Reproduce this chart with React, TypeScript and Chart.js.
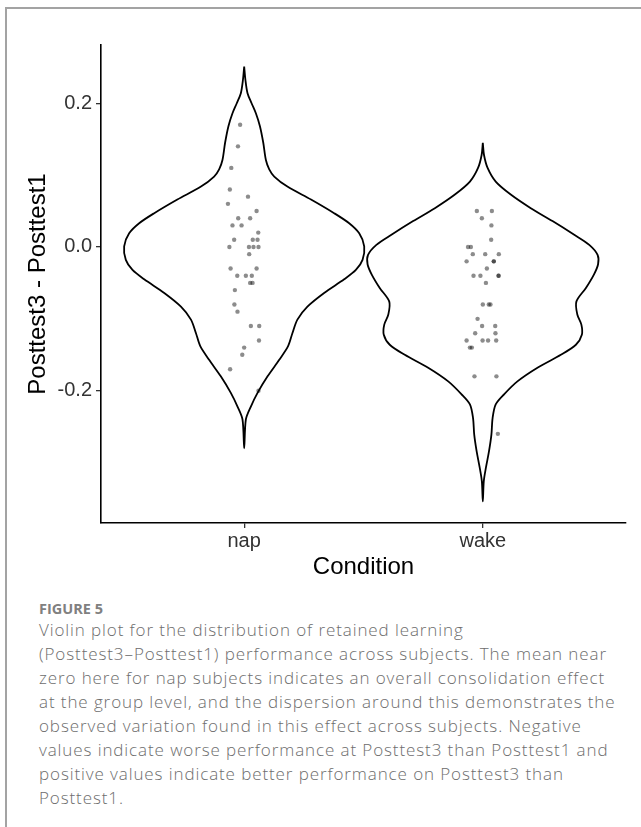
import React, { useEffect, useRef } from "react";
import { Chart, registerables } from "chart.js";

Chart.register(...registerables);

// ---- data ----
const categories = ["nap", "wake"];
const yTickValues = [-0.2, 0.0, 0.2];
const yAxisTitle = "Posttest3 - Posttest1";
const xAxisTitle = "Condition";

// violin outline: y values and half-widths (category units)
const napDensityY = [0.251, 0.233, 0.214, 0.2, 0.186, 0.168, 0.145, 0.121, 0.108, 0.098, 0.084, 0.066, 0.047, 0.033, 0.019, 0.001, -0.018, -0.032, -0.045, -0.064, -0.083, -0.101, -0.12, -0.138, -0.157, -0.18, -0.203, -0.222, -0.24, -0.28];
const napHalfWidth = [0, 0.005, 0.014, 0.031, 0.049, 0.066, 0.08, 0.091, 0.105, 0.126, 0.181, 0.28, 0.377, 0.44, 0.482, 0.503, 0.496, 0.468, 0.419, 0.335, 0.265, 0.223, 0.202, 0.184, 0.147, 0.098, 0.056, 0.028, 0.007, 0];

const wakeDensityY = [0.145, 0.128, 0.11, 0.091, 0.073, 0.054, 0.036, 0.017, 0.003, -0.011, -0.024, -0.038, -0.057, -0.076, -0.094, -0.108, -0.122, -0.136, -0.15, -0.168, -0.187, -0.205, -0.219, -0.238, -0.261, -0.284, -0.307, -0.326, -0.354];
const wakeHalfWidth = [0, 0.005, 0.02, 0.054, 0.117, 0.201, 0.292, 0.383, 0.446, 0.481, 0.483, 0.466, 0.432, 0.392, 0.396, 0.413, 0.415, 0.39, 0.327, 0.229, 0.145, 0.089, 0.054, 0.041, 0.036, 0.026, 0.013, 0.004, 0];

// individual subjects: value and horizontal jitter (category units)
const napValues = [0.17, 0.14, 0.11, 0.08, 0.07, 0.06, 0.05, 0.04, 0.04, 0.03, 0.03, 0.02, 0.01, 0.01, 0.01, 0.0, 0.0, 0.0, 0.0, -0.01, -0.03, -0.03, -0.04, -0.04, -0.04, -0.05, -0.05, -0.06, -0.08, -0.09, -0.11, -0.11, -0.13, -0.14, -0.15, -0.17, -0.2];
const napJitter = [-0.017, -0.026, -0.054, -0.06, 0.016, -0.068, 0.052, -0.025, 0.025, -0.049, -0.011, 0.059, -0.042, 0.036, 0.056, -0.062, 0.02, 0.039, 0.06, 0.021, -0.057, 0.052, -0.029, 0.007, 0.032, 0.025, 0.035, -0.039, -0.041, -0.028, 0.028, 0.063, 0.062, 0.0, -0.008, -0.059, 0.06];

const wakeValues = [0.05, 0.05, 0.04, 0.03, 0.01, 0.0, 0.0, -0.01, -0.01, -0.01, -0.02, -0.02, -0.02, -0.03, -0.04, -0.04, -0.04, -0.04, -0.05, -0.08, -0.08, -0.08, -0.1, -0.11, -0.11, -0.12, -0.12, -0.13, -0.13, -0.13, -0.13, -0.14, -0.14, -0.18, -0.18, -0.26];
const wakeJitter = [-0.025, 0.038, -0.004, 0.036, 0.035, -0.062, -0.05, -0.042, 0.01, 0.067, -0.068, 0.046, 0.046, 0.017, -0.039, -0.01, 0.066, 0.066, 0.013, 0.0, 0.025, 0.032, -0.022, -0.003, 0.052, -0.032, 0.053, -0.068, -0.001, 0.022, 0.056, -0.054, -0.046, -0.035, 0.057, 0.063];

const captionLabel = "FIGURE 5";
const captionLines = [
  "Violin plot for the distribution of retained learning",
  "(Posttest3\u2013Posttest1) performance across subjects. The mean near",
  "zero here for nap subjects indicates an overall consolidation effect",
  "at the group level, and the dispersion around this demonstrates the",
  "observed variation found in this effect across subjects. Negative",
  "values indicate worse performance at Posttest3 than Posttest1 and",
  "positive values indicate better performance on Posttest3 than",
  "Posttest1.",
];

function violinOutline(center: number, ys: number[], hw: number[]) {
  const pts: { x: number; y: number }[] = [];
  for (let i = 0; i < ys.length; i++) pts.push({ x: center - hw[i], y: ys[i] });
  for (let i = ys.length - 2; i >= 0; i--) pts.push({ x: center + hw[i], y: ys[i] });
  return pts;
}

function jitterPoints(center: number, vals: number[], jit: number[]) {
  return vals.map((v, i) => ({ x: center + jit[i], y: v }));
}

export default function App() {
  const ref = useRef<HTMLCanvasElement | null>(null);

  useEffect(() => {
    if (!ref.current) return;
    const tickFont = { family: "'Liberation Sans', Arial, sans-serif", size: 20 };
    const titleFont = { family: "'Liberation Sans', Arial, sans-serif", size: 24 };
    const chart = new Chart(ref.current, {
      type: "scatter",
      data: {
        datasets: [
          {
            data: jitterPoints(1, napValues, napJitter),
            pointRadius: 2.2,
            pointBackgroundColor: "rgba(0,0,0,0.45)",
            pointBorderWidth: 0,
            order: 0,
          },
          {
            data: jitterPoints(2, wakeValues, wakeJitter),
            pointRadius: 2.2,
            pointBackgroundColor: "rgba(0,0,0,0.45)",
            pointBorderWidth: 0,
            order: 0,
          },
          {
            data: violinOutline(1, napDensityY, napHalfWidth),
            showLine: true,
            pointRadius: 0,
            borderColor: "#000",
            borderWidth: 1.8,
            tension: 0.3,
            fill: false,
            order: 1,
          },
          {
            data: violinOutline(2, wakeDensityY, wakeHalfWidth),
            showLine: true,
            pointRadius: 0,
            borderColor: "#000",
            borderWidth: 1.8,
            tension: 0.3,
            fill: false,
            order: 1,
          },
        ] as any,
      },
      options: {
        responsive: false,
        animation: false,
        devicePixelRatio: 1,
        layout: { padding: { top: 35, right: 15, left: 0, bottom: 0 } },
        plugins: { legend: { display: false }, tooltip: { enabled: false } },
        scales: {
          x: {
            type: "linear",
            min: 0.4,
            max: 2.6,
            afterBuildTicks: (s: any) => {
              s.ticks = categories.map((_, i) => ({ value: i + 1 }));
            },
            afterFit: (s: any) => {
              s.height = 67;
            },
            ticks: {
              font: tickFont,
              color: "#333",
              padding: 1,
              maxRotation: 0,
              callback: (v: any) => categories[Math.round(Number(v)) - 1] ?? "",
            },
            grid: { drawOnChartArea: false, drawTicks: true, tickLength: 5, color: "#333", lineWidth: 1.3 },
            border: { display: true, color: "#000", width: 1.6 },
            title: { display: true, text: xAxisTitle, font: titleFont, color: "#000", padding: { top: 0, bottom: 8 } },
          },
          y: {
            type: "linear",
            min: -0.384,
            max: 0.281,
            afterBuildTicks: (s: any) => {
              s.ticks = yTickValues.map((v) => ({ value: v }));
            },
            afterFit: (s: any) => {
              s.width = 93;
            },
            ticks: {
              font: tickFont,
              color: "#333",
              padding: 4,
              callback: (v: any) => Number(v).toFixed(1),
            },
            grid: { drawOnChartArea: false, drawTicks: true, tickLength: 5, color: "#333", lineWidth: 1.3 },
            border: { display: true, color: "#000", width: 1.6 },
            title: { display: true, text: yAxisTitle, font: titleFont, color: "#000", padding: { top: 16, bottom: 0 } },
          },
        },
      } as any,
    });
    return () => chart.destroy();
  }, []);

  return (
    <div style={{ position: "absolute", left: 0, top: 0, width: 641, height: 827, background: "#fff", overflow: "hidden" }}>
      <div
        style={{
          position: "absolute",
          left: 5,
          top: 7,
          width: 700,
          height: 900,
          borderLeft: "2px solid #a3a3a3",
          borderTop: "2px solid #a3a3a3",
        }}
      />
      <canvas ref={ref} width={633} height={580} style={{ position: "absolute", left: 8, top: 10 }} />
      <div
        style={{
          position: "absolute",
          left: 39,
          top: 599,
          fontFamily: "'Open Sans', sans-serif",
          fontWeight: 700,
          fontSize: 14.5,
          lineHeight: "20px",
          color: "#808080",
          whiteSpace: "nowrap",
        }}
      >
        {captionLabel}
      </div>
      <div
        style={{
          position: "absolute",
          left: 39,
          top: 618,
          fontFamily: "'Open Sans', sans-serif",
          fontWeight: 300,
          fontSize: 17,
          letterSpacing: "0.9px",
          lineHeight: "24px",
          color: "#6d6d6d",
          whiteSpace: "nowrap",
        }}
      >
        {captionLines.map((l, i) => (
          <div key={i}>{l}</div>
        ))}
      </div>
    </div>
  );
}
